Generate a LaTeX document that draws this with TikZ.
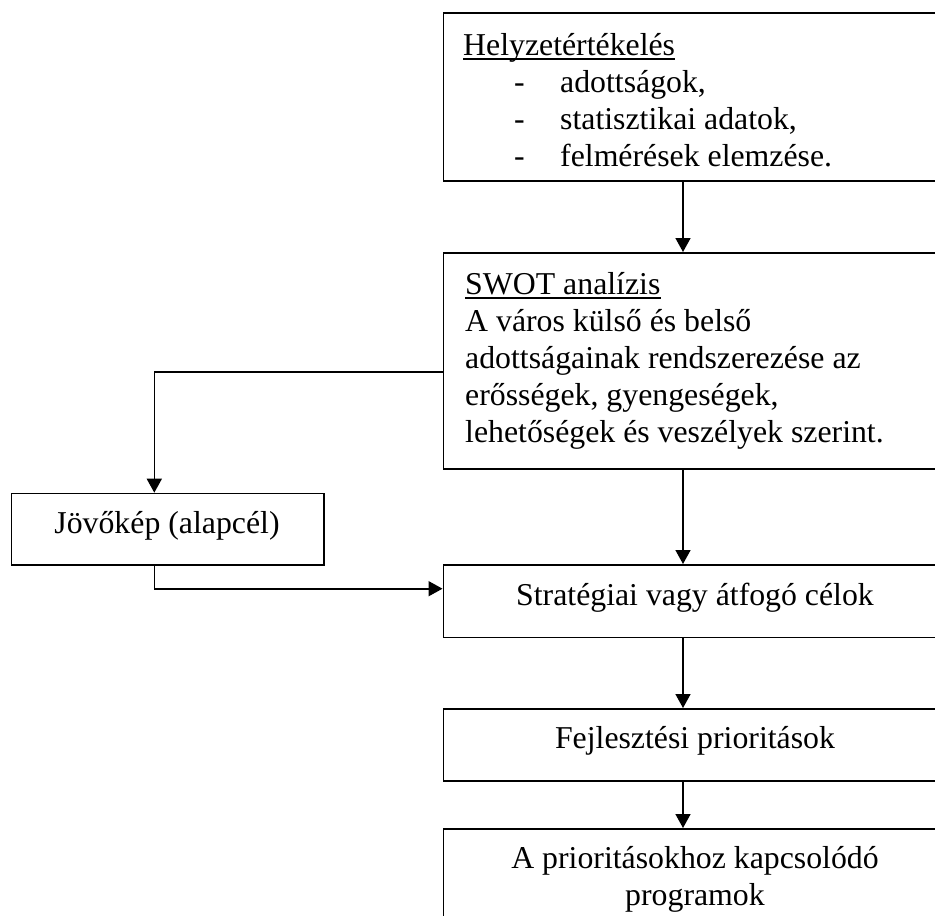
\documentclass[tikz,border=0pt]{standalone}
\usepackage{fontspec}
\setmainfont{Liberation Serif}
\usetikzlibrary{arrows.meta}
\begin{document}
\begin{tikzpicture}[x=1pt,y=-1pt,
  box/.style={draw, line width=1.6pt, rectangle, inner sep=0pt, anchor=north west},
  lbl/.style={inner sep=0pt, anchor=base west, font=\fontsize{31.8}{37}\selectfont},
  clbl/.style={inner sep=0pt, anchor=base, font=\fontsize{31.8}{37}\selectfont},
  arr/.style={line width=1.6pt, -{Triangle[width=15pt,length=14pt]}},
  uline/.style={line width=1.8pt}]
\useasboundingbox (0,0) rectangle (935,916);
\fill[white] (0,0) rectangle (935,916);
\clip (0,0) rectangle (935,916);
% boxes
\node[box, minimum width=504.5pt, minimum height=168pt] (b1) at (442.5,12) {};
\node[box, minimum width=504.5pt, minimum height=216pt] (b2) at (442.5,252) {};
\node[box, minimum width=312.6pt, minimum height=71.3pt] (jov) at (10.7,492.7) {};
\node[box, minimum width=504.5pt, minimum height=72.7pt] (strat) at (442.5,564) {};
\node[box, minimum width=504.5pt, minimum height=72pt] (fejl) at (442.5,708) {};
\node[box, minimum width=504.5pt, minimum height=130pt] (prog) at (442.5,828) {};
% texts box 1
\node[lbl] (t1) at (463,55) {Helyzetértékelés};
\draw[uline] ([yshift=-4pt]t1.base west) -- ([yshift=-4pt]t1.base east);
\node[lbl] (d1) at (514,92) {-};
\node[lbl] (d2) at (514,129) {-};
\node[lbl] (d3) at (514,166) {-};
\node[lbl] (i1) at (560,92) {adottságok,};
\node[lbl] (i2) at (560,129) {statisztikai adatok,};
\node[lbl] (i3) at (560,166) {felmérések elemzése.};
% texts box 2
\node[lbl] (s0) at (465,294) {SWOT analízis};
\draw[uline] ([yshift=-4pt]s0.base west) -- ([yshift=-4pt]s0.base east);
\node[lbl] (s1) at (465,331) {A város külső és belső};
\node[lbl] (s2) at (465,368) {adottságainak rendszerezése az};
\node[lbl] (s3) at (465,405) {erősségek, gyengeségek,};
\node[lbl] (s4) at (465,442) {lehetőségek és veszélyek szerint.};
% other texts
\node[clbl] (tj) at (167,533) {Jövőkép (alapcél)};
\node[clbl] (ts) at (695,605) {Stratégiai vagy átfogó célok};
\node[clbl] (tf) at (695,748) {Fejlesztési prioritások};
\node[clbl] (tp1) at (695,868) {A prioritásokhoz kapcsolódó};
\node[clbl] (tp2) at (695,905) {programok};
% connectors
\coordinate (ax) at (683,0);
\coordinate (c1) at (154.3,372);
\coordinate (c2) at (154.3,588.7);
\draw[arr] (b1.south -| ax) -- (b2.north -| ax);
\draw[arr] (b2.south -| ax) -- (strat.north -| ax);
\draw[arr] (strat.south -| ax) -- (fejl.north -| ax);
\draw[arr] (fejl.south -| ax) -- (prog.north -| ax);
\draw[arr] (b2.west |- c1) -- (c1) -- (jov.north -| c1);
\draw[arr] (jov.south -| c2) -- (c2) -- (strat.west |- c2);
\end{tikzpicture}
\end{document}
